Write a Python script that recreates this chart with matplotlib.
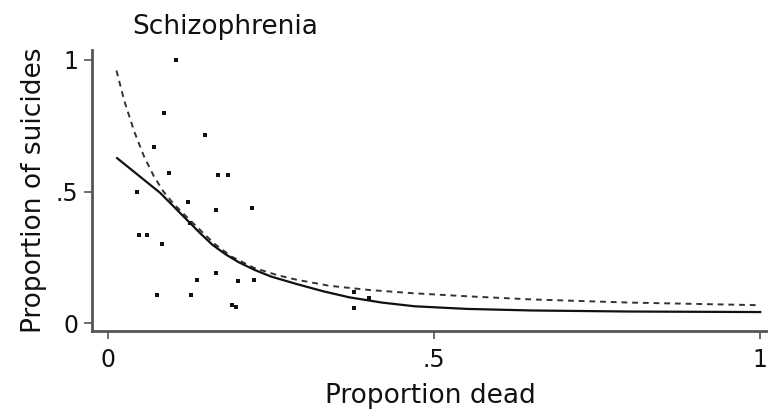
import matplotlib
matplotlib.use("Agg")
import matplotlib.pyplot as plt

# scatter: proportion dead vs proportion of suicides
dead = [0.104, 0.086, 0.149, 0.071, 0.093, 0.169, 0.184, 0.045, 0.123,
        0.166, 0.221, 0.048, 0.060, 0.083, 0.126, 0.136, 0.166, 0.199,
        0.224, 0.075, 0.128, 0.196, 0.377, 0.377, 0.400, 0.190]
suicides = [1.00, 0.80, 0.715, 0.67, 0.57, 0.563, 0.563, 0.50, 0.46,
            0.43, 0.437, 0.335, 0.335, 0.30, 0.38, 0.165, 0.19, 0.16,
            0.165, 0.105, 0.105, 0.06, 0.12, 0.057, 0.095, 0.07]

# fitted curves
fit_x = [0.014, 0.04, 0.06, 0.08, 0.10, 0.12, 0.14, 0.16, 0.18, 0.20,
         0.225, 0.25, 0.29, 0.33, 0.37, 0.42, 0.47, 0.55, 0.65, 0.8, 1.0]
fit_solid = [0.627, 0.575, 0.535, 0.495, 0.445, 0.395, 0.345, 0.298, 0.262,
             0.232, 0.202, 0.177, 0.148, 0.121, 0.098, 0.078, 0.064, 0.054,
             0.048, 0.044, 0.042]
dash_x = [0.013, 0.025, 0.04, 0.055, 0.07, 0.085, 0.10, 0.12, 0.145, 0.164,
          0.19, 0.224, 0.26, 0.289, 0.339, 0.40, 0.465, 0.55, 0.65, 0.8, 1.0]
fit_dashed = [0.96, 0.845, 0.73, 0.635, 0.56, 0.50, 0.455, 0.405, 0.345,
              0.300, 0.252, 0.210, 0.182, 0.165, 0.142, 0.126, 0.114, 0.102,
              0.090, 0.078, 0.068]

xticks = [0, 0.5, 1]
xtick_labels = ["0", ".5", "1"]
yticks = [0, 0.5, 1]
ytick_labels = ["0", ".5", "1"]

fig = plt.figure(figsize=(7.68, 4.15), dpi=100)
ax = fig.add_axes([92 / 768, 84 / 415, 676 / 768, 281 / 415])

ax.plot(dash_x, fit_dashed, color="#333333", linestyle=(0, (3, 2.5)), linewidth=1.4)
ax.plot(fit_x, fit_solid, color="#111111", linewidth=1.6)
ax.scatter(dead, suicides, s=10, marker="s", color="#111111", linewidths=0)

ax.set_xlim(-0.0245, 1.012)
ax.set_ylim(-0.030, 1.038)
ax.set_xticks(xticks)
ax.set_xticklabels(xtick_labels)
ax.set_yticks(yticks)
ax.set_yticklabels(ytick_labels)

for s in ["top", "right"]:
    ax.spines[s].set_visible(False)
for s in ["left", "bottom"]:
    ax.spines[s].set_color("#555555")
    ax.spines[s].set_linewidth(2)

ax.tick_params(axis="both", colors="#555555", labelcolor="#111111",
               labelsize=17, length=6, width=1.2)
ax.tick_params(axis="x", pad=6)
ax.tick_params(axis="y", pad=4)

ax.set_xlabel("Proportion dead", fontsize=19, color="#111111", labelpad=8)
ax.set_ylabel("Proportion of suicides", fontsize=19, color="#111111", labelpad=6)
fig.text(225 / 768, 1 - 27 / 415, "Schizophrenia", fontsize=19,
         ha="center", va="center", color="#111111")

fig.savefig("out.png", dpi=100)
